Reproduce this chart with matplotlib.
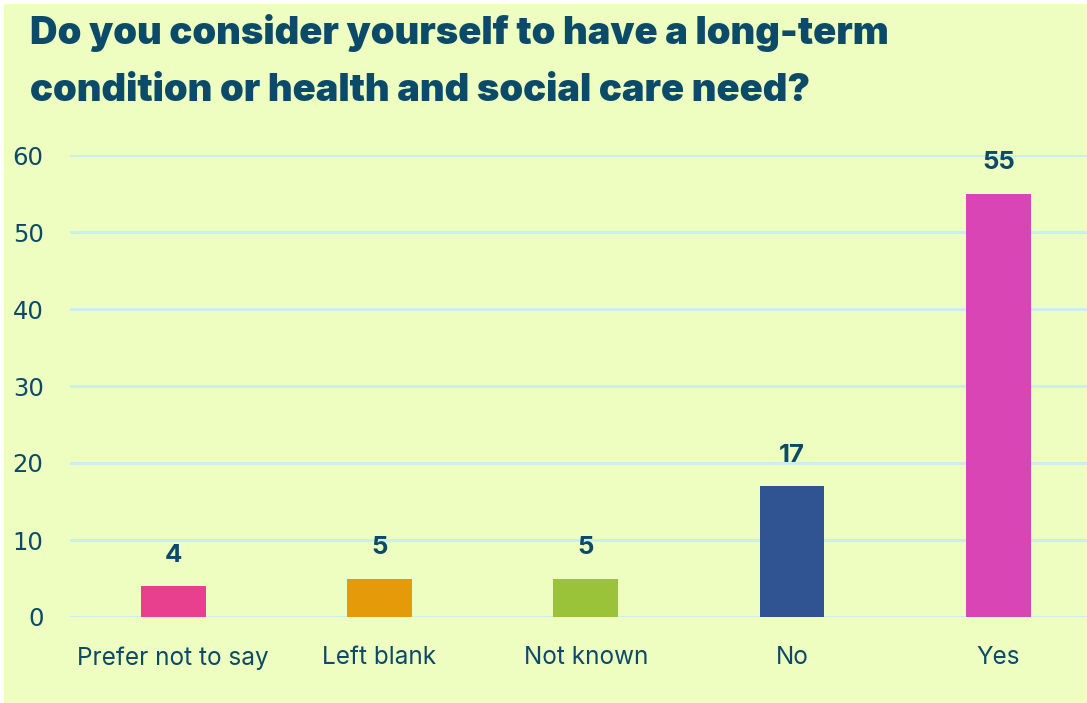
import matplotlib
matplotlib.use("Agg")
import matplotlib.pyplot as plt
from matplotlib.patches import Rectangle

# Survey answers and counts
categories = ["Prefer not to say", "Left blank", "Not known", "No", "Yes"]
counts = [4, 5, 5, 17, 55]
bar_colors = ["#E8408F", "#E59A0A", "#9AC33A", "#305391", "#D945B4"]
y_ticks = [0, 10, 20, 30, 40, 50, 60]

title = "Do you consider yourself to have a long-term\ncondition or health and social care need?"

bg = "#EEFDC0"
dark = "#0B4A68"
grid = "#C8EEF3"

fig = plt.figure(figsize=(10.87, 7.03), dpi=100, facecolor="white")
fig.patches.append(Rectangle((4 / 1087, 0), 1, 1 - 4 / 703, transform=fig.transFigure,
                             facecolor=bg, edgecolor="none", zorder=-1))

ax = fig.add_axes([70 / 1087, (703 - 617) / 703, (1087 - 70) / 1087, (617 - 155) / 703])
ax.set_facecolor("none")

x = range(len(categories))
ax.bar(x, counts, width=0.315, color=bar_colors, zorder=3)
for xi, v in zip(x, counts):
    ax.annotate(str(v), (xi, v), xytext=(0, 14), textcoords="offset points",
                ha="center", va="bottom", fontsize=18.5, fontweight="bold",
                color=dark, family="Inter", zorder=4)

ax.set_xlim(-0.5, 4.43)
ax.set_ylim(0, 60)
ax.set_yticks(y_ticks)
ax.set_xticks(list(x))
ax.set_xticklabels(categories)
ax.grid(axis="y", color=grid, linewidth=2, zorder=0)
ax.set_axisbelow(True)
for s in ax.spines.values():
    s.set_visible(False)
ax.tick_params(axis="both", length=0, labelsize=17.5, colors=dark)
ax.tick_params(axis="x", pad=21)
ax.tick_params(axis="y", pad=19)
for lbl in ax.get_xticklabels():
    lbl.set_family("Inter")
for lbl in ax.get_yticklabels():
    lbl.set_family("DejaVu Sans")

fig.text(30 / 1087, 1 - 14 / 703, title, ha="left", va="top", fontsize=27.5,
         fontweight="black", color=dark, family="Inter", linespacing=1.75)

fig.savefig("out.png", dpi=100, facecolor=fig.get_facecolor())
